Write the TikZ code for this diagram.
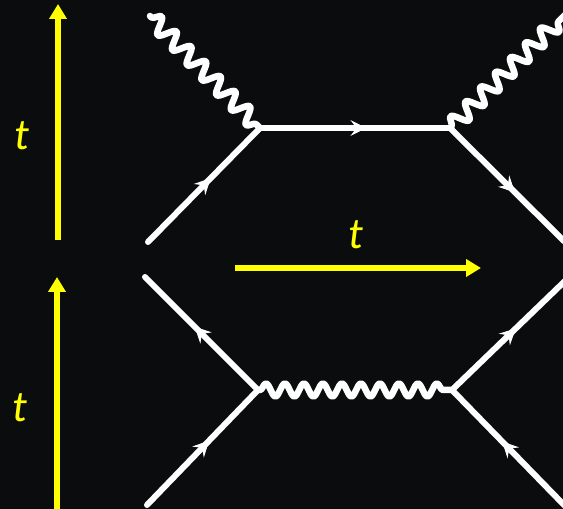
\documentclass[tikz,border=0pt]{standalone}
\usepackage{fontspec}
\setmainfont{Carlito}
\usetikzlibrary{arrows.meta,decorations.pathmorphing,decorations.markings}

\definecolor{board}{RGB}{10,12,13}
\definecolor{chalkyellow}{RGB}{255,255,0}

\begin{document}
\begin{tikzpicture}[x=1pt,y=1pt,line cap=round,line join=round,
    every node/.style={inner sep=1pt},
    fermion/.style={white,line width=6pt,postaction={decorate},
      decoration={markings,mark=at position 0.56 with {\arrow[white,line width=1pt]{Stealth[length=16pt,width=16pt,inset=6pt]}}}},
    photon/.style={white,line width=6.5pt,decorate,
      decoration={snake,amplitude=8pt,segment length=21pt,pre length=2pt,post length=2pt}},
    timearrow/.style={chalkyellow,line width=5.5pt,line cap=butt,-{Triangle[length=15pt,width=17pt]}},
    timelabel/.style={text=chalkyellow,font=\fontsize{44}{44}\selectfont\itshape}]
  \useasboundingbox (0,0) rectangle (563,509);
  \fill[board] (0,0) rectangle (563,509);
  \clip (0,0) rectangle (563,509);

  % upper diagram: photon absorbed and emitted
  \coordinate (ua) at (260,381);
  \coordinate (ub) at (450,381);
  \coordinate (uin) at (148,267);
  \coordinate (uout) at (566,266);
  \coordinate (ugin) at (150,493);
  \coordinate (ugout) at (566,495);
  \draw[photon] (ugin) -- (ua);
  \draw[photon] (ub) -- (ugout);
  \draw[fermion] (uin) -- (ua);
  \draw[fermion] (ua) -- (ub);
  \draw[fermion] (ub) -- (uout);

  % lower diagram: photon exchange
  \coordinate (la) at (258,119);
  \coordinate (lb) at (452,119);
  \coordinate (lul) at (145,232);
  \coordinate (ldl) at (147,4);
  \coordinate (lur) at (566,229);
  \coordinate (ldr) at (566,2);
  \draw[photon,decoration={amplitude=6.5pt,segment length=19pt}] (la) -- (lb);
  \draw[fermion] (la) -- (lul);
  \draw[fermion] (ldl) -- (la);
  \draw[fermion] (lb) -- (lur);
  \draw[fermion] (ldr) -- (lb);

  % time axes
  \coordinate (t1s) at (58,269);
  \coordinate (t1e) at (58,505);
  \coordinate (t2s) at (57,-2);
  \coordinate (t2e) at (57,232);
  \coordinate (t3s) at (235,241);
  \coordinate (t3e) at (481,241);
  \draw[timearrow] (t1s) -- (t1e);
  \draw[timearrow] (t2s) -- (t2e);
  \draw[timearrow] (t3s) -- (t3e);
  \node[timelabel] (tup) at (22,373) {t};
  \node[timelabel] (tdown) at (20,101) {t};
  \node[timelabel] (tright) at (356,274) {t};
\end{tikzpicture}
\end{document}
